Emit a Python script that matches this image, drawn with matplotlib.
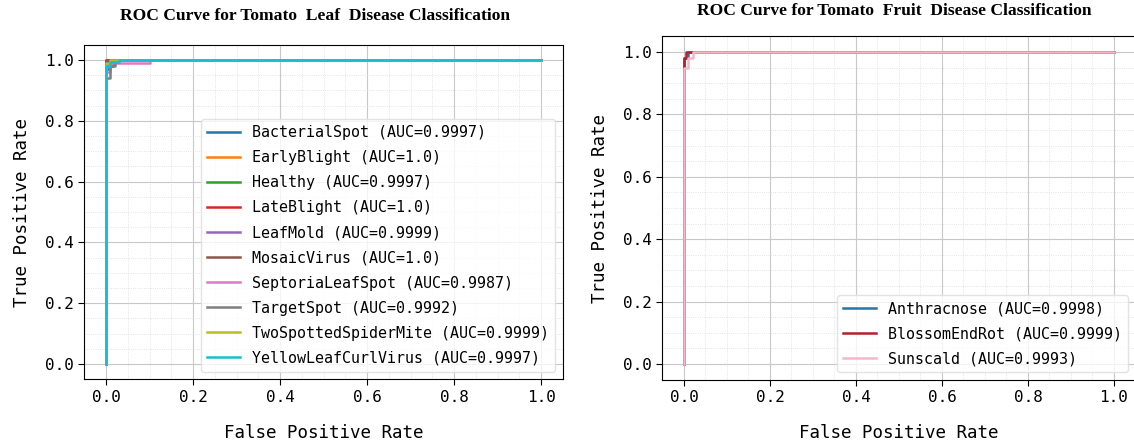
import numpy as np
import matplotlib
matplotlib.use("Agg")
import matplotlib.pyplot as plt
from matplotlib.ticker import MultipleLocator

# leaf classes: fpr / tpr points of each ROC curve and the AUC it reports
leaf_names = ["BacterialSpot", "EarlyBlight", "Healthy", "LateBlight", "LeafMold",
              "MosaicVirus", "SeptoriaLeafSpot", "TargetSpot", "TwoSpottedSpiderMite",
              "YellowLeafCurlVirus"]
leaf_auc = [0.9997, 1.0, 0.9997, 1.0, 0.9999, 1.0, 0.9987, 0.9992, 0.9999, 0.9997]
leaf_fpr = [
    [0, 0, 0.01, 0.01, 1],
    [0, 0, 1],
    [0, 0, 0.015, 0.015, 1],
    [0, 0, 1],
    [0, 0, 0.005, 0.005, 1],
    [0, 0, 1],
    [0, 0, 0.01, 0.01, 0.1, 0.1, 1],
    [0, 0, 0.01, 0.01, 0.02, 0.02, 1],
    [0, 0, 0.01, 0.01, 1],
    [0, 0, 0.01, 0.01, 0.03, 0.03, 1],
]
leaf_tpr = [
    [0, 0.97, 0.97, 1, 1],
    [0, 1, 1],
    [0, 0.98, 0.98, 1, 1],
    [0, 1, 1],
    [0, 0.98, 0.98, 1, 1],
    [0, 1, 1],
    [0, 0.96, 0.96, 0.99, 0.99, 1, 1],
    [0, 0.94, 0.94, 0.98, 0.98, 1, 1],
    [0, 0.99, 0.99, 1, 1],
    [0, 0.98, 0.98, 0.995, 0.995, 1, 1],
]
leaf_colors = ["tab:blue", "tab:orange", "tab:green", "tab:red", "tab:purple",
               "tab:brown", "tab:pink", "tab:gray", "tab:olive", "tab:cyan"]

# fruit classes
fruit_names = ["Anthracnose", "BlossomEndRot", "Sunscald"]
fruit_auc = [0.9998, 0.9999, 0.9993]
fruit_fpr = [
    [0, 0, 0.01, 0.01, 1],
    [0, 0, 0.005, 0.005, 1],
    [0, 0, 0.01, 0.01, 0.02, 0.02, 1],
]
fruit_tpr = [
    [0, 0.98, 0.98, 1, 1],
    [0, 0.98, 0.98, 1, 1],
    [0, 0.95, 0.95, 0.98, 0.98, 1, 1],
]
fruit_colors = ["#1f77b4", "#b5202a", "#f7b6c8"]

mono = "DejaVu Sans Mono"
plt.rcParams["font.family"] = mono

fig = plt.figure(figsize=(11.34, 4.44), dpi=100)
ax1 = fig.add_axes([0.0743, 0.1459, 0.4220, 0.7532])
ax2 = fig.add_axes([0.5842, 0.1450, 0.4171, 0.7730])


def draw_roc(ax, names, fpr, tpr, auc, colors):
    for n, x, y, a, c in zip(names, fpr, tpr, auc, colors):
        ax.plot(x, y, color=c, lw=1.8, label=f"{n} (AUC={a})")
    ax.set_xlim(-0.05, 1.05)
    ax.set_ylim(-0.05, 1.05)
    ax.xaxis.set_major_locator(MultipleLocator(0.2))
    ax.yaxis.set_major_locator(MultipleLocator(0.2))
    ax.xaxis.set_minor_locator(MultipleLocator(0.05))
    ax.yaxis.set_minor_locator(MultipleLocator(0.05))
    ax.grid(which="major", color="#c8c8c8", lw=0.8)
    ax.grid(which="minor", color="#dcdcdc", lw=0.6, ls=":")
    ax.tick_params(which="minor", length=0)
    ax.tick_params(which="major", labelsize=11.5, length=4)
    ax.set_xlabel("False Positive Rate", fontsize=12.6, labelpad=14)
    ax.set_ylabel("True Positive Rate", fontsize=12.6, labelpad=10)
    ax.legend(loc="lower right", fontsize=10.8, labelspacing=0.67,
              handlelength=2.2, edgecolor="#dddddd")


draw_roc(ax1, leaf_names, leaf_fpr, leaf_tpr, leaf_auc, leaf_colors)
draw_roc(ax2, fruit_names, fruit_fpr, fruit_tpr, fruit_auc, fruit_colors)

fig.text(0.278, 0.965, "ROC Curve for Tomato  Leaf  Disease Classification",
         ha="center", va="center", fontsize=12.6, fontweight="bold", family="Liberation Serif")
fig.text(0.789, 0.976, "ROC Curve for Tomato  Fruit  Disease Classification",
         ha="center", va="center", fontsize=12.6, fontweight="bold", family="Liberation Serif")

fig.savefig("out.png", dpi=100)
